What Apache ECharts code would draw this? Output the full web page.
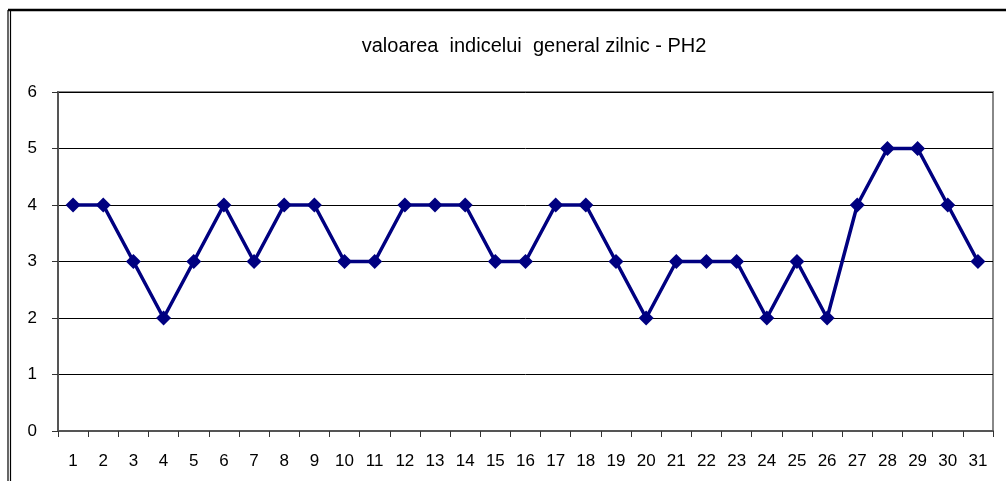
<!DOCTYPE html>
<html>
<head>
<meta charset="utf-8">
<script src="https://cdn.jsdelivr.net/npm/echarts@6/dist/echarts.min.js"></script>
<style>
  html, body { margin: 0; padding: 0; background: #fff; }
  #main { width: 1006px; height: 481px; }
</style>
</head>
<body>
<div id="main"></div>
<script>
const titleText = "valoarea  indicelui  general zilnic - PH2";
const days = ["1","2","3","4","5","6","7","8","9","10","11","12","13","14","15","16","17","18","19","20","21","22","23","24","25","26","27","28","29","30","31"];
const values = [4,4,3,2,3,4,3,4,4,3,3,4,4,4,3,3,4,4,3,2,3,3,3,2,3,2,4,5,5,4,3];
const yTicks = [0, 6, 1];

const chart = echarts.init(document.getElementById("main"));

chart.setOption({
    animation: false,
    textStyle: { fontFamily: "Liberation Sans, Arial, sans-serif" },
    title: {
        text: titleText,
        left: 529,
        textAlign: "center",
        top: 31,
        textStyle: { fontSize: 20, fontWeight: "normal", color: "#000" }
    },
    grid: { left: 58, right: 13, top: 92, bottom: 50, show: true, borderColor: "#888", borderWidth: 2 },
    graphic: [
        { type: "line", shape: { x1: 8, y1: 10, x2: 1006, y2: 10 }, style: { stroke: "#000", lineWidth: 2.5 } },
        { type: "line", shape: { x1: 8, y1: 10, x2: 8, y2: 481 }, style: { stroke: "#000", lineWidth: 1.2 } },
        { type: "line", shape: { x1: 10.5, y1: 10, x2: 10.5, y2: 481 }, style: { stroke: "#000", lineWidth: 1.2 } }
    ],
    xAxis: {
        type: "category",
        data: days,
        boundaryGap: true,
        axisLine: { lineStyle: { color: "#555", width: 2 } },
        axisTick: { show: true, length: 6, lineStyle: { color: "#333" } },
        axisLabel: { color: "#000", fontSize: 17, margin: 22 }
    },
    yAxis: {
        type: "value",
        min: yTicks[0],
        max: yTicks[1],
        interval: yTicks[2],
        axisLine: { show: true, lineStyle: { color: "#555", width: 2 } },
        axisTick: { show: true, length: 6, lineStyle: { color: "#333" } },
        axisLabel: { color: "#000", fontSize: 17, margin: 21 },
        splitLine: { lineStyle: { color: "#000", width: 1 } }
    },
    series: [{
        type: "line",
        data: values,
        symbol: "diamond",
        symbolSize: 15,
        lineStyle: { color: "#000080", width: 3.5 },
        itemStyle: { color: "#000080" }
    }]
});
</script>
</body>
</html>
